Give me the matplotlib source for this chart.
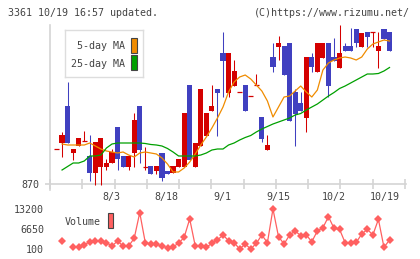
import numpy as np
import matplotlib
matplotlib.use("Agg")
import matplotlib.pyplot as plt
from matplotlib.patches import Rectangle

# Datos (precio en yenes, volumen en acciones)
opens = [905, 911, 948, 901, 908, 913, 898, 881, 887, 887,
         891, 927, 898, 887, 901, 948, 887, 888, 883, 901,
         883, 881, 887, 887, 969, 887, 908, 918, 943, 965,
         1001, 961, 968, 962, 969, 958, 969, 937, 904, 997,
         1007, 1008, 1011, 962, 951, 936, 997, 982, 996, 1011,
         997, 986, 1008, 1008, 1025, 1007, 1022, 1022, 1003, 1025,
         1022]
highs = [905, 922, 972, 905, 916, 923, 919, 912, 916, 895,
         905, 927, 898, 898, 941, 948, 907, 888, 888, 901,
         883, 888, 895, 941, 969, 911, 965, 941, 969, 965,
         1022, 1001, 994, 962, 969, 958, 980, 937, 919, 1011,
         1018, 1008, 1011, 965, 962, 997, 1001, 1011, 1011, 1011,
         1016, 1029, 1011, 1026, 1025, 1021, 1022, 1022, 1022, 1025,
         1022]
lows = [905, 897, 911, 894, 908, 913, 873, 869, 869, 884,
        891, 884, 887, 884, 887, 891, 884, 880, 880, 873,
        880, 881, 887, 887, 894, 887, 908, 918, 943, 918,
        957, 957, 968, 962, 943, 958, 969, 912, 904, 982,
        994, 979, 933, 908, 943, 922, 982, 982, 996, 957,
        993, 986, 1003, 1003, 1007, 1007, 1007, 1007, 986, 1015,
        1003]
closes = [905, 919, 911, 905, 916, 913, 881, 912, 916, 891,
          902, 895, 887, 898, 934, 904, 887, 880, 888, 876,
          880, 888, 895, 941, 894, 911, 965, 941, 948, 961,
          993, 1001, 983, 962, 943, 958, 969, 915, 909, 987,
          1011, 979, 933, 940, 943, 997, 987, 1011, 1011, 968,
          993, 1001, 1003, 1003, 1011, 1021, 1017, 1022, 1008, 1015,
          1003]

ma5 = [np.nan, 910, 909, 909, 909, 909, 911, 908, 905, 903,
       902, 901, 902, 899, 897, 901, 902, 901, 900, 896,
       890, 882, 882, 886, 892, 900, 909, 917, 926, 936,
       947, 962, 972, 977, 979, 975, 969, 963, 953, 937,
       947, 957, 958, 963, 968, 962, 957, 964, 984, 991,
       994, 996, 997, 996, 994, 997, 1005, 1010, 1012, 1014,
       1013]
ma25 = [np.nan, 884, 887.5, 891, 891, 893, 898, 898, 899, 906,
        910, 911, 911, 911, 911, 911, 910.5, 909.5, 909, 908,
        905.5, 902, 898, 898, 898, 898, 899, 901, 904, 905,
        905, 909, 911, 914, 916.5, 918.5, 922, 925, 927.5, 930,
        932, 934, 936, 939, 940.5, 944, 947, 950, 954, 958,
        961.5, 965.5, 968, 971, 974, 977, 980, 980, 980.5, 983,
        986.5]
volume = [np.nan, 2720, np.nan, 657, 657, 1410, 2490, 2720, 2720, 2170,
          1080, 2720, 1080, 1080, 3600, 12000, 2170, 1640, 1640, 1080,
          530, 860, 1960, 3930, 9930, 1080, 1080, 657, 1960, 3050,
          4690, 2830, 2170, 100, 1740, 100, 1960, 4690, 2170, 13200,
          4140, 1740, 4690, 6000, 4470, 4690, 2490, 6000, 7080, 10680,
          6880, 6540, 2170, 2170, 2270, 5010, 6540, 4690, 9820, 657,
          3050]

date_labels = ["8/3", "8/18", "9/1", "9/15", "10/2", "10/19"]
date_pos = [9.8, 19.8, 29.9, 40.0, 50.0, 59.2]
vol_ticks = [100, 6650, 13200]

RED = "#d40000"
BLUE = "#4040c0"
ORANGE = "#f08c00"
GREEN = "#00a000"
VOLC = "#ff6060"
TXT = "#444444"
AXC = "#d4d4d4"

plt.rcParams["font.family"] = ["DejaVu Sans Mono"]
plt.rcParams["font.size"] = 7.2

fig = plt.figure(figsize=(4.2, 2.59), dpi=100)
W, H = 420.0, 259.0

def axpos(x0, y0, x1, y1):
    return [x0 / W, 1 - y1 / H, (x1 - x0) / W, (y1 - y0) / H]

xlim = (-1.17, 62.97)

# Panel de precios
ax = fig.add_axes(axpos(50, 25, 406, 190))
ax.set_xlim(*xlim)
ax.set_ylim(864, 1029)
x = np.arange(len(opens))
for i in x:
    o, h, l, c = opens[i], highs[i], lows[i], closes[i]
    col = RED if c >= o else BLUE
    if h > l:
        ax.vlines(i, l, h, color=col, lw=0.75, zorder=3)
    if abs(c - o) < 0.5:
        ax.hlines(o, i - 0.45, i + 0.45, color=col, lw=0.9, zorder=4)
    else:
        ax.bar(i, abs(c - o), bottom=min(o, c), width=0.92, color=col,
               linewidth=0, zorder=4)
ax.plot(x, ma5, color=ORANGE, lw=0.9, zorder=5)
ax.plot(x, ma25, color=GREEN, lw=0.9, zorder=5)

for s in ["top", "right"]:
    ax.spines[s].set_visible(False)
ax.spines["left"].set_color(AXC)
ax.spines["bottom"].set_color(AXC)
ax.spines["left"].set_linewidth(1.2)
ax.spines["bottom"].set_linewidth(1.2)
ax.spines["bottom"].set_position(("data", 870))
ax.set_yticks([870])
ax.set_yticklabels(["870"])
ax.set_xticks(np.linspace(xlim[0], 62.79, 12))
ax.set_xticklabels([])
ax.tick_params(axis="y", length=3.6, width=1.2, color=AXC, pad=4.3, labelcolor=TXT)
ax.tick_params(axis="x", direction="inout", length=6.5, width=1.2, color=AXC)

# Leyenda de medias móviles
leg = fig.add_axes(axpos(65, 30, 143, 77))
leg.set_xlim(65, 143)
leg.set_ylim(77, 30)
leg.set_xticks([])
leg.set_yticks([])
for s in leg.spines.values():
    s.set_color("#dddddd")
    s.set_linewidth(1.0)
leg.text(125, 46, "5-day MA", ha="right", va="center", color=TXT)
leg.text(125, 64, "25-day MA", ha="right", va="center", color=TXT)
leg.add_patch(Rectangle((131, 37.5), 6, 15.5, facecolor=ORANGE, edgecolor="#444444", lw=0.8))
leg.add_patch(Rectangle((131, 54.5), 6, 15.5, facecolor=GREEN, edgecolor="#444444", lw=0.8))

# Panel de volumen
av = fig.add_axes(axpos(50, 205, 406, 253))
av.set_xlim(*xlim)
av.set_ylim(100 - 4 * 327.5, 100 + 44 * 327.5)
av.plot(x, volume, color=VOLC, lw=0.9, marker="D", markersize=4.3,
        markeredgewidth=0, zorder=3)
for s in av.spines.values():
    s.set_visible(False)
av.set_xticks([])
av.set_yticks(vol_ticks)
av.set_yticklabels([str(v) for v in vol_ticks])
av.tick_params(axis="y", length=0, pad=4.3, labelcolor=TXT)
av.text(1.4, 100 + 27 * 327.5, "Volume", ha="left", va="center", color=TXT)
av.add_patch(Rectangle((9.2, 100 + 21 * 327.5), 1.0, 15 * 327.5,
                       facecolor=VOLC, edgecolor="#444444", lw=0.8, zorder=4))

# Etiquetas de fechas
for lab, p in zip(date_labels, date_pos):
    fig.text((50 + (p - xlim[0]) * (356 / (xlim[1] - xlim[0]))) / W, 1 - 197 / H,
             lab, ha="center", va="center", color=TXT)

fig.text(8 / W, 1 - 13 / H, "3361 10/19 16:57 updated.", ha="left", va="center", color=TXT)
fig.text(410 / W, 1 - 13 / H, "(C)https://www.rizumu.net/", ha="right", va="center", color=TXT)

fig.savefig("out.png", dpi=100)
